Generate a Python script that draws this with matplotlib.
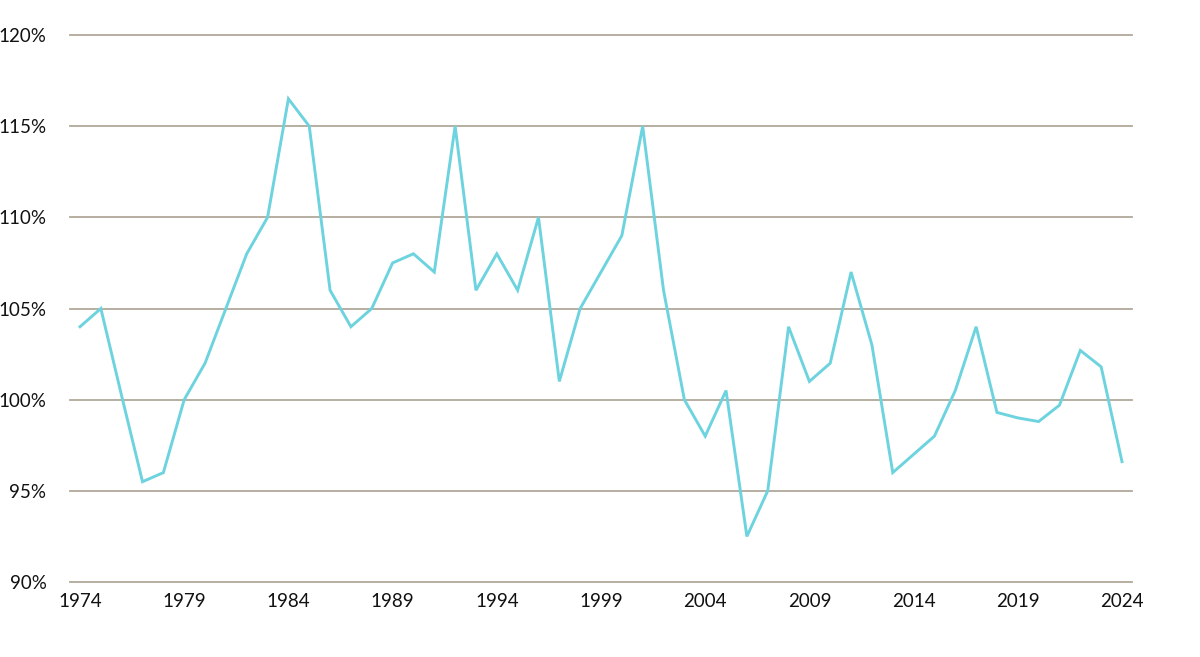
import matplotlib
matplotlib.use("Agg")
import matplotlib.pyplot as plt
from matplotlib.ticker import FuncFormatter

years = list(range(1974, 2025))
values = [104, 105, 100.2, 95.5, 96, 100, 102, 105, 108, 110,
          116.5, 115, 106, 104, 105, 107.5, 108, 107, 115, 106,
          108, 106, 110, 101, 105, 107, 109, 115, 106, 100,
          98, 100.5, 92.5, 95, 104, 101, 102, 107, 103, 96,
          97, 98, 100.5, 104, 99.3, 99.0, 98.8, 99.7, 102.7, 101.8,
          96.6]
x_ticks = list(range(1974, 2025, 5))
y_ticks = [90, 95, 100, 105, 110, 115, 120]

plt.rcParams['font.family'] = ['Lato', 'DejaVu Sans']

fig = plt.figure(figsize=(12, 6.57), dpi=100)
ax = fig.add_axes([70/1200, 1-582/657, (1132-70)/1200, (582-35)/657])

ax.plot(years, values, color='#6dd3df', lw=2.1, solid_joinstyle='miter', zorder=3)

ax.set_ylim(90, 120)
ax.set_xlim(1974 - 10/20.84, 2024 + 10/20.84)
ax.set_yticks(y_ticks)
ax.set_xticks(x_ticks)
ax.yaxis.set_major_formatter(FuncFormatter(lambda v, p: f"{int(v)}%"))
ax.grid(axis='y', color='#b0a89a', lw=1.3, zorder=1)
for gl in ax.get_ygridlines():
    gl.set_clip_on(False)
ax.set_axisbelow(True)
for s in ax.spines.values():
    s.set_visible(False)
ax.tick_params(axis='both', length=0, labelsize=13.5, colors='#111111')
ax.tick_params(axis='y', pad=17)
ax.tick_params(axis='x', pad=8)

fig.savefig("out.png", dpi=100, facecolor='white')
